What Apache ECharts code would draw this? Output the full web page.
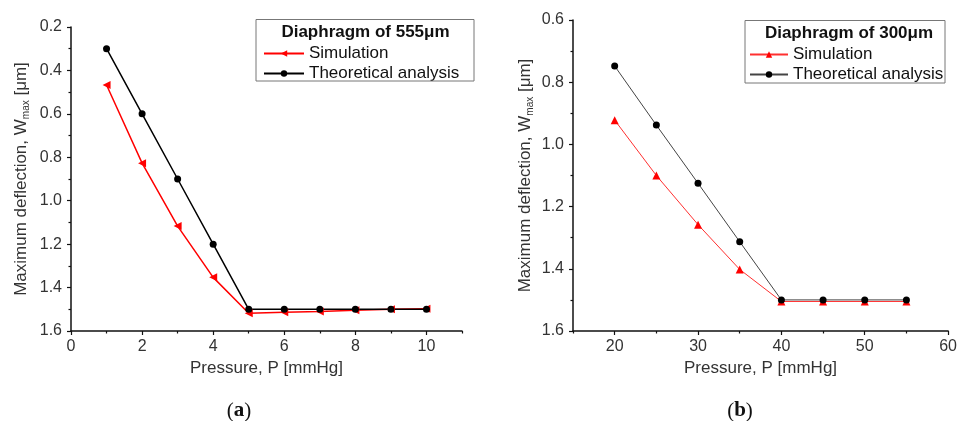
<!DOCTYPE html>
<html>
<head>
<meta charset="utf-8">
<script src="https://cdn.jsdelivr.net/npm/echarts@6/dist/echarts.min.js"></script>
<style>html,body{margin:0;padding:0;background:#fff}#c{width:960px;height:421px}</style>
</head>
<body>
<div id="c"></div>
<script>
// Panel (a): diaphragm 555 um
const pressureA = [1, 2, 3, 4, 5, 6, 7, 8, 9, 10];
const simulationA = [0.467, 0.827, 1.117, 1.353, 1.518, 1.514, 1.510, 1.505, 1.500, 1.498];
const theoryA = [0.30, 0.60, 0.90, 1.20, 1.50, 1.50, 1.50, 1.50, 1.50, 1.50];
const xTicksA = [0, 2, 4, 6, 8, 10];
const xMinorA = [1, 3, 5, 7, 9, 11];

// Panel (b): diaphragm 300 um
const pressureB = [20, 25, 30, 35, 40, 45, 50, 55];
const simulationB = [0.922, 1.100, 1.258, 1.402, 1.505, 1.505, 1.505, 1.505];
const theoryB = [0.748, 0.938, 1.125, 1.313, 1.500, 1.500, 1.500, 1.500];
const xTicksB = [20, 30, 40, 50, 60];
const xMinorB = [15, 25, 35, 45, 55];

const titleA = 'Diaphragm of 555\u03bcm';
const titleB = 'Diaphragm of 300\u03bcm';
const xName = 'Pressure, P [mmHg]';
const yName = 'Maximum deflection, W{sub|max} [\u03bcm]';

const FONT = '"Liberation Sans", Arial, sans-serif';
const AX = '#111';
const LBL = '#333';

function zip(xs, ys) { return xs.map((x, i) => [x, ys[i]]); }

function mainX(gi, min, max, ticks) {
  return {
    type: 'value', gridIndex: gi, min: min, max: max, position: 'bottom',
    splitLine: {show: false},
    axisLine: {show: true, onZero: false, lineStyle: {color: AX, width: 1.5}},
    axisTick: {show: true, inside: false, length: 4, customValues: ticks, lineStyle: {color: AX, width: 1.2}},
    axisLabel: {show: true, customValues: ticks, margin: 8, fontFamily: FONT, fontSize: 16, color: LBL},
    name: xName, nameLocation: 'middle', nameGap: 27,
    nameTextStyle: {fontFamily: FONT, fontSize: 17, color: LBL}
  };
}
function minorX(gi, min, max, ticks) {
  return {
    type: 'value', gridIndex: gi, min: min, max: max, position: 'bottom',
    splitLine: {show: false},
    axisLine: {show: false, onZero: false},
    axisTick: {show: true, inside: false, length: 2.5, customValues: ticks, lineStyle: {color: AX, width: 1.2}},
    axisLabel: {show: false}
  };
}
function mainY(gi, min, max, gap) {
  return {
    type: 'value', gridIndex: gi, min: min, max: max, interval: 0.2, inverse: true,
    splitLine: {show: false},
    axisLine: {show: true, onZero: false, lineStyle: {color: AX, width: 1.5}},
    axisTick: {show: true, inside: false, length: 4, lineStyle: {color: AX, width: 1.2}},
    minorTick: {show: true, splitNumber: 2, length: 2.5, lineStyle: {color: AX, width: 1.2}},
    axisLabel: {margin: 9, fontFamily: FONT, fontSize: 16, color: LBL, formatter: v => v.toFixed(1)},
    name: yName, nameLocation: 'middle', nameGap: gap, nameRotate: 90,
    nameTextStyle: {fontFamily: FONT, fontSize: 17, color: LBL,
      rich: {sub: {fontFamily: FONT, fontSize: 10, color: LBL, verticalAlign: 'bottom', padding: [10, 0, 0, 0]}}}
  };
}
function legendCfg(left, top, w, suffix) {
  return {
    orient: 'vertical', left: left, top: top, padding: 0,
    itemWidth: w, itemHeight: 8, itemGap: 3,
    data: ['Simulation' + suffix, 'Theoretical analysis' + suffix],
    formatter: n => n.replace(suffix, ''),
    textStyle: {fontFamily: FONT, fontSize: 17, color: '#111'}
  };
}

const chart = echarts.init(document.getElementById('c'), null, {renderer: 'canvas'});
chart.setOption({
  animation: false,
  backgroundColor: '#fff',
  grid: [
    {left: 71, top: 27, right: 498, bottom: 90},
    {left: 573, top: 20, right: 11, bottom: 90}
  ],
  xAxis: [
    mainX(0, 0, 11, xTicksA),
    minorX(0, 0, 11, xMinorA),
    mainX(1, 15, 60, xTicksB),
    minorX(1, 15, 60, xMinorB)
  ],
  yAxis: [
    mainY(0, 0.2, 1.6, 40),
    mainY(1, 0.6, 1.6, 38)
  ],
  legend: [
    legendCfg(263, 45, 40, ' (a)'),
    legendCfg(749, 46, 38, ' (b)')
  ],
  series: [
    {name: 'Simulation (a)', type: 'line', xAxisIndex: 0, yAxisIndex: 0,
     data: zip(pressureA, simulationA), symbol: 'triangle', symbolRotate: 90, symbolSize: 8,
     lineStyle: {color: '#ff0000', width: 1.5}, itemStyle: {color: '#ff0000'}},
    {name: 'Theoretical analysis (a)', type: 'line', xAxisIndex: 0, yAxisIndex: 0,
     data: zip(pressureA, theoryA), symbol: 'circle', symbolSize: 7,
     lineStyle: {color: '#000', width: 1.5}, itemStyle: {color: '#000'}},
    {name: 'Simulation (b)', type: 'line', xAxisIndex: 2, yAxisIndex: 1,
     data: zip(pressureB, simulationB), symbol: 'triangle', symbolSize: 8,
     lineStyle: {color: '#ff3030', width: 1}, itemStyle: {color: '#ff0000'}},
    {name: 'Theoretical analysis (b)', type: 'line', xAxisIndex: 2, yAxisIndex: 1,
     data: zip(pressureB, theoryB), symbol: 'circle', symbolSize: 7,
     lineStyle: {color: '#444', width: 1}, itemStyle: {color: '#000'}}
  ],
  graphic: [
    {type: 'rect', shape: {x: 256, y: 19.5, width: 218, height: 61.5}, style: {fill: 'none', stroke: '#777', lineWidth: 1}, z: 10},
    {type: 'text', x: 365.5, y: 32, z: 10, style: {text: titleA, fontFamily: FONT, fontSize: 17, fontWeight: 'bold', fill: '#111', textAlign: 'center', textVerticalAlign: 'middle'}},
    {type: 'rect', shape: {x: 745, y: 20.5, width: 200, height: 62.5}, style: {fill: 'none', stroke: '#777', lineWidth: 1}, z: 10},
    {type: 'text', x: 849, y: 33, z: 10, style: {text: titleB, fontFamily: FONT, fontSize: 17, fontWeight: 'bold', fill: '#111', textAlign: 'center', textVerticalAlign: 'middle'}},
    {type: 'text', x: 239, y: 411, style: {text: '({b|a})', rich: {b: {fontWeight: 'bold', fontFamily: '"Liberation Serif", serif', fontSize: 21, fill: '#111'}}, fontFamily: '"Liberation Serif", serif', fontSize: 21, fill: '#111', textAlign: 'center', textVerticalAlign: 'middle'}},
    {type: 'text', x: 740, y: 411, style: {text: '({b|b})', rich: {b: {fontWeight: 'bold', fontFamily: '"Liberation Serif", serif', fontSize: 21, fill: '#111'}}, fontFamily: '"Liberation Serif", serif', fontSize: 21, fill: '#111', textAlign: 'center', textVerticalAlign: 'middle'}}
  ]
});
</script>
</body>
</html>
